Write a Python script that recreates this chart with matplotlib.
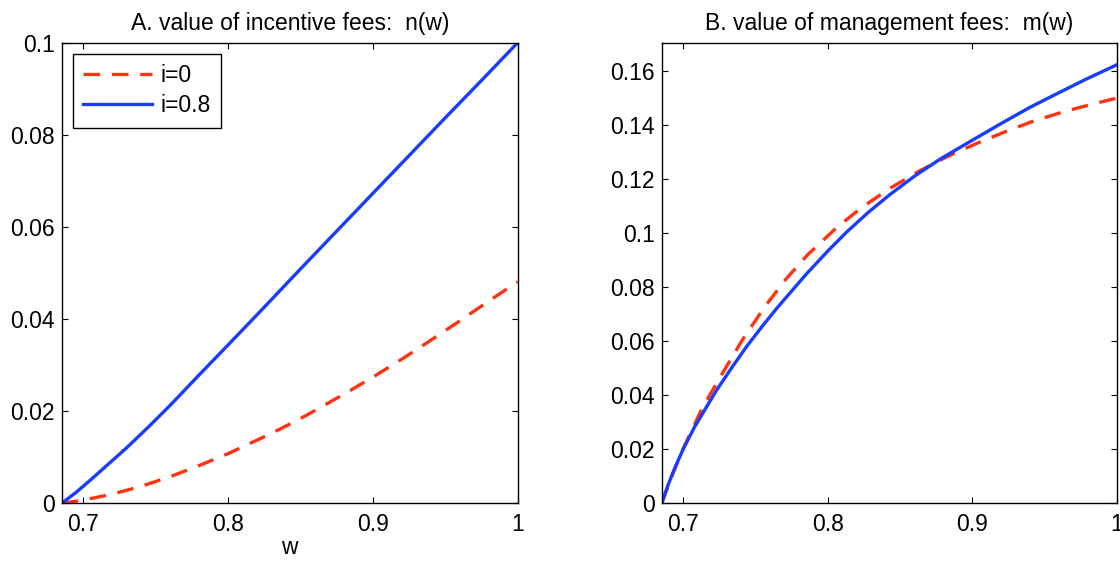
import numpy as np
import matplotlib
matplotlib.use("Agg")
import matplotlib.pyplot as plt

plt.rcParams['font.family'] = ['Liberation Sans', 'DejaVu Sans']

# Panel A: value of incentive fees n(w)
w_a0 = [0.685, 0.70, 0.72, 0.74, 0.76, 0.78, 0.80, 0.83, 0.85, 0.88, 0.90, 0.92, 0.94, 0.96, 0.98, 1.0]
n_i0 = [0, 0.0007, 0.0020, 0.0037, 0.0058, 0.0082, 0.0108, 0.0152, 0.0184, 0.0237, 0.0274,
        0.0313, 0.0354, 0.0396, 0.0439, 0.0481]
w_a8 = [0.685, 0.695, 0.705, 0.715, 0.73, 0.745, 0.76, 0.78, 0.8, 0.825, 0.85, 0.875, 0.9,
        0.925, 0.95, 0.975, 1.0]
n_i08 = [0, 0.0024, 0.0051, 0.0079, 0.0121, 0.0166, 0.0213, 0.0279, 0.0344, 0.0426, 0.0509,
         0.0591, 0.0673, 0.0755, 0.0837, 0.0918, 0.1]

# Panel B: value of management fees m(w)
w_b0 = [0.685, 0.692, 0.700, 0.713, 0.727, 0.741, 0.756, 0.771, 0.786, 0.806, 0.823, 0.843,
        0.864, 0.884, 0.903, 0.924, 0.943, 0.963, 0.982, 1.0]
m_i0 = [0, 0.0100, 0.0204, 0.0352, 0.0481, 0.0606, 0.0725, 0.0830, 0.0920, 0.1020, 0.1093,
        0.1166, 0.1232, 0.1287, 0.1332, 0.1378, 0.1416, 0.1449, 0.1476, 0.1500]
w_b8 = [0.685, 0.689, 0.694, 0.700, 0.708, 0.723, 0.734, 0.744, 0.755, 0.765, 0.785, 0.800,
        0.813, 0.828, 0.843, 0.860, 0.878, 0.901, 0.920, 0.940, 0.960, 0.978, 1.0]
m_i08 = [0, 0.0062, 0.0130, 0.0202, 0.0285, 0.0419, 0.0506, 0.0582, 0.0658, 0.0724, 0.0848,
         0.0934, 0.1004, 0.1077, 0.1143, 0.1211, 0.1275, 0.1347, 0.1406, 0.1466, 0.1520,
         0.1568, 0.1623]

xticks = [0.7, 0.8, 0.9, 1]
labels = ['i=0', 'i=0.8']

red = '#ff3311'
blue = '#1a3cff'
fs = 16.5

fig = plt.figure(figsize=(11.2, 5.67), dpi=100)
ax1 = fig.add_axes([0.0551, 0.1123, 0.4071, 0.8124])
ax2 = fig.add_axes([0.5908, 0.1123, 0.4063, 0.8124])

ax1.plot(w_a0, n_i0, '--', color=red, lw=2.4, dashes=(5, 3.5), label=labels[0])
ax1.plot(w_a8, n_i08, '-', color=blue, lw=2.4, label=labels[1])
ax1.set_ylim(0, 0.1)
ax1.set_yticks([0, 0.02, 0.04, 0.06, 0.08, 0.1])
ax1.set_yticklabels(['0', '0.02', '0.04', '0.06', '0.08', '0.1'])
ax1.set_title('A. value of incentive fees:  n(w)', fontsize=fs, pad=9)
ax1.set_xlabel('w', fontsize=fs, labelpad=0)
leg = ax1.legend(loc='upper left', fontsize=fs, fancybox=False, framealpha=1,
                 edgecolor='black', handlelength=3.0, handletextpad=0.35,
                 borderpad=0.45, borderaxespad=0.5, labelspacing=0.3)
leg.get_frame().set_linewidth(1.0)

ax2.plot(w_b0, m_i0, '--', color=red, lw=2.4, dashes=(5, 3.5))
ax2.plot(w_b8, m_i08, '-', color=blue, lw=2.4)
ax2.set_ylim(0, 0.1705)
ax2.set_yticks([0, 0.02, 0.04, 0.06, 0.08, 0.1, 0.12, 0.14, 0.16])
ax2.set_yticklabels(['0', '0.02', '0.04', '0.06', '0.08', '0.1', '0.12', '0.14', '0.16'])
ax2.set_title('B. value of management fees:  m(w)', fontsize=fs, pad=9)

for ax in (ax1, ax2):
    ax.set_xlim(0.685, 1)
    ax.set_xticks(xticks)
    ax.set_xticklabels(['0.7', '0.8', '0.9', '1'])
    ax.tick_params(direction='in', top=True, right=True, labelsize=fs,
                   length=4, width=0.8, pad=5)
    ax.tick_params(axis='x', pad=7)
    for s in ax.spines.values():
        s.set_linewidth(1.0)

fig.savefig('out.png', dpi=100)
